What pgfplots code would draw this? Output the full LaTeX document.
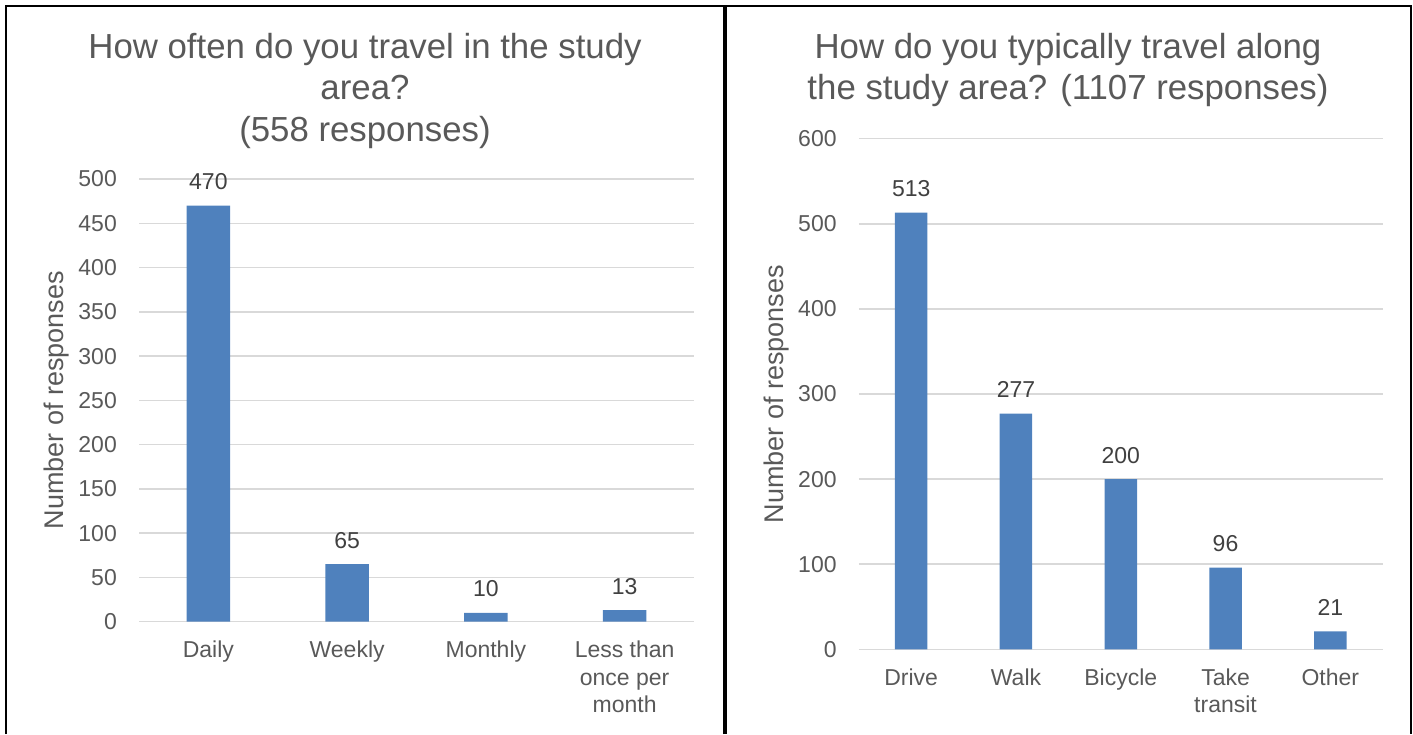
\documentclass[border=0pt]{standalone}
\usepackage{pgfplots}
\pgfplotsset{compat=1.18}
\usepackage{fontspec}
\setmainfont{Liberation Sans}
\definecolor{barblue}{HTML}{4F81BD}
\definecolor{txt}{HTML}{595959}
\definecolor{lbl}{HTML}{404040}
\definecolor{gridc}{HTML}{D9D9D9}
\newcommand{\tickfont}{\fontsize{23}{27.5}\selectfont}
\pgfplotsset{mystyle/.style={
  scale only axis, ybar, ymin=0,
  axis line style={draw=none}, major tick length=0pt,
  ymajorgrids, grid style={draw=gridc, line width=1.5pt},
  xtick=data,
  tick label style={font=\tickfont, text=txt},
  /pgf/number format/assume math mode=true,
  xticklabel style={anchor=north, inner sep=0pt, yshift=-19pt, align=center},
  yticklabel style={anchor=east, inner sep=0pt, xshift=-22pt},
  nodes near coords,
  every node near coord/.append style={font=\tickfont, text=lbl, anchor=base, inner sep=0pt, yshift=16pt},
  ylabel style={font=\fontsize{27}{32}\selectfont, text=txt, anchor=center},
  clip=false
}}
\begin{document}
\begin{tikzpicture}
\useasboundingbox (0pt,0pt) rectangle (1413pt,734pt);
% left chart
\begin{axis}[mystyle,
  at={(139pt,112.3pt)}, anchor=south west,
  width=555pt, height=442.7pt,
  xmin=-0.5, xmax=3.5, ymax=500,
  ytick={0,50,...,500},
  xticklabels={Daily,Weekly,Monthly,{Less than\\once per\\month}},
  ylabel={Number of responses},
  ylabel style={at={(axis description cs:-0.1486,0.5)}},
  bar width=43.3pt]
\addplot[fill=barblue, draw=none] coordinates {(0,470) (1,65) (2,10) (3,13)};
\end{axis}
% right chart
\begin{axis}[mystyle,
  at={(858.8pt,84.7pt)}, anchor=south west,
  width=523.9pt, height=510.6pt,
  xmin=-0.5, xmax=4.5, ymax=600,
  ytick={0,100,...,600},
  xticklabels={Drive,Walk,Bicycle,{Take\\transit},Other},
  ylabel={Number of responses},
  ylabel style={at={(axis description cs:-0.157,0.5)}},
  bar width=32.5pt]
\addplot[fill=barblue, draw=none] coordinates {(0,513) (1,277) (2,200) (3,96) (4,21)};
\end{axis}
% titles
\node[anchor=north, inner sep=0pt, align=center, font=\fontsize{34.8}{41.5}\selectfont, text=txt] at (365pt,701pt) {How often do you travel in the study\\area?\\(558 responses)};
\node[anchor=north, inner sep=0pt, align=center, font=\fontsize{34.8}{41.5}\selectfont, text=txt] at (1068pt,701pt) {How do you typically travel along\\the study area? (1107 responses)};
% borders
\draw[line width=2pt, line join=miter] (6pt,0pt) -- (6pt,728pt) -- (1410.7pt,728pt) -- (1410.7pt,0pt);
\draw[line width=4pt] (725.3pt,0pt) -- (725.3pt,728pt);
\end{tikzpicture}
\end{document}
